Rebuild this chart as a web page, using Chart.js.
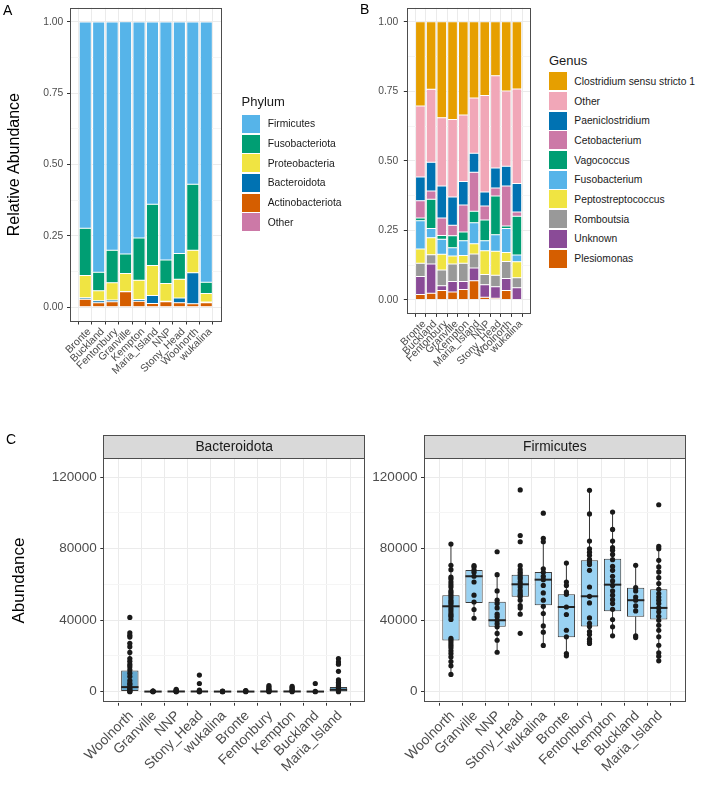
<!DOCTYPE html>
<html>
<head>
<meta charset="utf-8">
<script src="https://cdn.jsdelivr.net/npm/chart.js@4.4.1/dist/chart.umd.min.js"></script>
<style>
  body { margin: 0; background: #fff; font-family: "Liberation Sans", Arial, Helvetica, sans-serif; }
  #page { position: relative; width: 709px; height: 802px; overflow: hidden; }
  canvas { position: absolute; }
  .tag { position: absolute; font-size: 14px; line-height: 14px; color: #000; }
  .legend { position: absolute; color: #1a1a1a; }
  .legend .ttl { font-size: 13px; height: 17px; line-height: 17px; }
  .legend .row { display: flex; align-items: center; height: 19.7px; font-size: 10.3px; white-space: nowrap; }
  .legend .key { display: inline-block; width: 18px; height: 18px; }
</style>
</head>
<body>
<div id="page">
  <canvas id="chartA" width="235" height="400" style="left:0;top:0"></canvas>
  <canvas id="chartB" width="200" height="400" style="left:340px;top:0"></canvas>
  <canvas id="chartC1" width="370" height="372" style="left:0;top:430px"></canvas>
  <canvas id="chartC2" width="339" height="372" style="left:370px;top:430px"></canvas>
  <div class="tag" style="left:3px;top:3px">A</div>
  <div class="tag" style="left:360px;top:1.5px">B</div>
  <div class="tag" style="left:6px;top:431.5px">C</div>
</div>
<script>
// ---- panels A and B: sites in alphabetical order
const sites = ['Bronte', 'Buckland', 'Fentonbury', 'Granville', 'Kempton', 'Maria_Island', 'NNP', 'Stony_Head', 'Woolnorth', 'wukalina'];
const relTicks = [0, 0.125, 0.25, 0.375, 0.5, 0.625, 0.75, 0.875, 1];
const relMajor = [0, 0.25, 0.5, 0.75, 1];

// Phylum (legend order = top of the stack first)
const phylumNames = ['Firmicutes', 'Fusobacteriota', 'Proteobacteria', 'Bacteroidota', 'Actinobacteriota', 'Other'];
const phylumColors = ['#56B4E9', '#009E73', '#F0E442', '#0072B2', '#D55E00', '#CC79A7'];
const firmicutes       = [0.723, 0.877, 0.800, 0.814, 0.757, 0.639, 0.834, 0.812, 0.569, 0.912];
const fusobacteriota   = [0.166, 0.065, 0.114, 0.069, 0.148, 0.215, 0.083, 0.090, 0.231, 0.040];
const proteobacteria   = [0.078, 0.035, 0.061, 0.063, 0.068, 0.105, 0.062, 0.066, 0.079, 0.030];
const bacteroidota     = [0.005, 0.007, 0.006, 0.001, 0.006, 0.028, 0.002, 0.016, 0.109, 0.002];
const actinobacteriota = [0.026, 0.014, 0.017, 0.052, 0.019, 0.011, 0.017, 0.014, 0.010, 0.014];
const phylumOther      = [0.002, 0.002, 0.002, 0.002, 0.002, 0.002, 0.002, 0.002, 0.002, 0.002];

// Genus (legend order = top of the stack first)
const genusNames = ['Clostridium sensu stricto 1', 'Other', 'Paeniclostridium', 'Cetobacterium', 'Vagococcus',
  'Fusobacterium', 'Peptostreptococcus', 'Romboutsia', 'Unknown', 'Plesiomonas'];
const genusColors = ['#E69F00', '#F1A7B8', '#0072B2', '#CC79A7', '#009E73', '#56B4E9', '#F0E442', '#999999', '#8A4B97', '#D55E00'];
const clostridium        = [0.303, 0.243, 0.345, 0.351, 0.335, 0.274, 0.265, 0.194, 0.249, 0.242];
const genusOther         = [0.255, 0.262, 0.245, 0.279, 0.239, 0.199, 0.347, 0.332, 0.270, 0.339];
const paeniclostridium   = [0.085, 0.103, 0.115, 0.101, 0.085, 0.068, 0.050, 0.072, 0.071, 0.103];
const cetobacterium      = [0.062, 0.030, 0.063, 0.038, 0.097, 0.140, 0.051, 0.028, 0.144, 0.015];
const vagococcus         = [0.010, 0.105, 0.014, 0.043, 0.031, 0.041, 0.074, 0.140, 0.009, 0.139];
const fusobacterium      = [0.102, 0.033, 0.054, 0.030, 0.053, 0.076, 0.036, 0.059, 0.086, 0.025];
const peptostreptococcus = [0.051, 0.061, 0.056, 0.029, 0.028, 0.037, 0.085, 0.086, 0.033, 0.057];
const romboutsia         = [0.048, 0.034, 0.057, 0.063, 0.066, 0.050, 0.037, 0.041, 0.061, 0.036];
const unknownGenus       = [0.064, 0.105, 0.017, 0.037, 0.028, 0.046, 0.045, 0.042, 0.043, 0.042];
const plesiomonas        = [0.020, 0.024, 0.034, 0.029, 0.038, 0.069, 0.010, 0.006, 0.034, 0.002];

// ---- panel C: abundance per site
const boxSites = ['Woolnorth', 'Granville', 'NNP', 'Stony_Head', 'wukalina', 'Bronte', 'Fentonbury', 'Kempton', 'Buckland', 'Maria_Island'];
const abTicks = [0, 20000, 40000, 60000, 80000, 100000, 120000];
const abMajor = [0, 40000, 80000, 120000];

// Bacteroidota box stats
const bacLo  = [0, 0, 0, 0, 0, 0, 0, 0, 0, 0];
const bacQ1  = [400, 0, 0, 0, 0, 0, 0, 0, 0, 200];
const bacMed = [2600, 100, 150, 150, 100, 100, 150, 150, 100, 1100];
const bacQ3  = [11900, 250, 400, 400, 200, 300, 400, 400, 200, 2700];
const bacHi  = [27100, 400, 1300, 900, 300, 700, 900, 900, 300, 6600];
const bacPoints = [
  [41600, 33000, 31600, 30600, 27100, 25200, 22000, 18600, 17000, 15300, 14000, 12200, 10400, 8500, 6300, 4800, 4000, 2800, 2000, 1200, 600, 200, 0],
  [0, 100, 150, 200, 300, 400],
  [0, 100, 200, 500, 900, 1300],
  [9300, 4600, 900, 400, 100, 0],
  [0, 100, 200, 300],
  [0, 200, 500, 700],
  [3400, 2600, 1800, 1100, 700, 300, 0],
  [3000, 2300, 1600, 900, 400, 0],
  [4600, 200, 0],
  [18600, 16700, 15400, 11400, 6600, 5300, 4400, 3400, 2700, 1800, 1100, 500, 0]
];

// Firmicutes box stats
const firLo  = [9700, 41100, 22100, 43400, 25900, 20100, 27000, 31300, 30300, 17300];
const firQ1  = [28700, 49700, 36300, 53200, 48400, 30500, 36500, 45000, 42000, 40400];
const firMed = [47800, 64600, 40000, 60100, 62700, 47400, 53400, 59900, 51200, 46900];
const firQ3  = [54000, 68100, 50400, 65500, 67000, 54500, 73500, 74400, 58200, 57300];
const firHi  = [82600, 70500, 65500, 70500, 85800, 72000, 112700, 100500, 70700, 81300];
const firPoints = [
  [82600, 70700, 68300, 64200, 63100, 61400, 59900, 58600, 56400, 55300, 54000, 52700, 51200, 50200, 49300, 48000, 46500,
   45200, 43700, 42800, 41900, 40400, 29800, 28700, 27300, 25900, 24600, 22900, 21400, 19500, 16900, 14500, 9700],
  [70500, 69800, 68100, 66800, 64600, 61400, 54000, 50200, 46000, 41100],
  [78300, 65500, 56400, 51200, 49300, 46900, 43400, 41900, 40000, 38100, 36300, 32600, 28800, 22100],
  [112900, 87400, 83900, 70500, 68300, 66800, 65500, 64200, 63100, 61400, 60100, 58600, 56700, 55300, 54000, 53200,
   51200, 48200, 46900, 43400, 32700],
  [99900, 85800, 83900, 68800, 66800, 64600, 62700, 59500, 55300, 51200, 47800, 43700, 36800, 33300, 25900],
  [72000, 61400, 59500, 55800, 54500, 47400, 43200, 34400, 30700, 21400, 20100],
  [112700, 99500, 84300, 80000, 78100, 76300, 74000, 72600, 71200, 67900, 58600, 53400, 49700, 41300, 38300, 36500,
   33700, 32000, 29400, 27900, 27000],
  [100500, 90800, 84300, 80600, 79100, 76800, 73900, 70100, 67900, 64600, 62000, 59500, 56400, 54000, 51500, 49300,
   46100, 40400, 36300, 31300],
  [70700, 58200, 56400, 53000, 51200, 48000, 45200, 31300, 30300],
  [104600, 81300, 80000, 73500, 69800, 67000, 63800, 60500, 57300, 54900, 53000, 51200, 49300, 46900, 44700, 42200,
   40000, 37200, 34400, 30700, 26000, 21800, 19900, 17300]
];

const FONT = '"Liberation Sans", Arial, Helvetica, sans-serif';

// panel border (theme_bw) and facet strip
const frame = {
  id: 'frame',
  afterDraw(chart) {
    const a = chart.chartArea, ctx = chart.ctx;
    ctx.save();
    ctx.strokeStyle = '#4d4d4d';
    ctx.lineWidth = 1;
    ctx.strokeRect(Math.round(a.left) + 0.5, Math.round(a.top) + 0.5, Math.round(a.width) - 1, Math.round(a.height) - 1);
    ctx.restore();
  }
};
const strip = {
  id: 'strip',
  afterDraw(chart, args, opts) {
    if (!opts.text) return;
    const a = chart.chartArea, ctx = chart.ctx;
    const h = 23.3;
    ctx.save();
    ctx.fillStyle = '#d9d9d9';
    ctx.fillRect(a.left, a.top - h, a.width, h);
    ctx.strokeStyle = '#4d4d4d';
    ctx.lineWidth = 1;
    ctx.strokeRect(Math.round(a.left) + 0.5, Math.round(a.top - h) + 0.5, Math.round(a.width) - 1, Math.round(h));
    ctx.fillStyle = '#1a1a1a';
    ctx.font = '13.8px ' + FONT;
    ctx.textAlign = 'center';
    ctx.textBaseline = 'middle';
    ctx.fillText(opts.text, (a.left + a.right) / 2, a.top - h / 2 + 0.5);
    ctx.restore();
  }
};
// whiskers and median, drawn right after the box dataset (below the points)
const whiskers = {
  id: 'whiskers',
  afterDatasetDraw(chart, args) {
    const ds = chart.data.datasets[args.index];
    if (!ds.med) return;
    const ctx = chart.ctx, y = chart.scales.y;
    ctx.save();
    args.meta.data.forEach((bar, i) => {
      const x = bar.x, w = bar.width;
      ctx.strokeStyle = '#333';
      ctx.lineWidth = 1;
      ctx.beginPath();
      ctx.moveTo(x, y.getPixelForValue(ds.hi[i]));
      ctx.lineTo(x, y.getPixelForValue(ds.q3[i]));
      ctx.moveTo(x, y.getPixelForValue(ds.q1[i]));
      ctx.lineTo(x, y.getPixelForValue(ds.lo[i]));
      ctx.stroke();
      ctx.strokeStyle = '#222';
      ctx.lineWidth = 2;
      ctx.beginPath();
      const ym = y.getPixelForValue(ds.med[i]);
      ctx.moveTo(x - w / 2, ym);
      ctx.lineTo(x + w / 2, ym);
      ctx.stroke();
    });
    ctx.restore();
  }
};

function axes(o) {
  return {
    x: {
      type: 'linear', min: o.xMin, max: o.xMax, stacked: true,
      afterBuildTicks: s => { s.ticks = o.labels.map((_, i) => ({ value: i })); },
      afterFit: s => { s.height = o.xH; s.paddingLeft = 0; s.paddingRight = 0; },
      ticks: {
        autoSkip: false, minRotation: 45, maxRotation: 45, padding: o.xPad, labelOffset: o.xShift,
        callback: v => o.labels[v], color: '#4d4d4d', font: { family: FONT, size: o.xfs }
      },
      grid: { color: '#ebebeb', tickColor: '#333', tickLength: 3 },
      border: { display: false }
    },
    y: {
      min: o.yMin, max: o.yMax, stacked: o.stackY,
      afterBuildTicks: s => { s.ticks = o.ticks.map(v => ({ value: v })); },
      afterFit: s => { s.width = o.yW; s.paddingTop = 0; s.paddingBottom = 0; },
      ticks: {
        padding: o.yPad, color: '#4d4d4d', font: { family: FONT, size: o.fs },
        callback: v => o.major.includes(v) ? o.fmt(v) : ''
      },
      grid: {
        color: c => o.major.includes(c.tick.value) ? '#ebebeb' : '#f5f5f5',
        tickColor: c => o.major.includes(c.tick.value) ? '#333' : 'rgba(0,0,0,0)',
        tickLength: 3
      },
      border: { display: false },
      title: o.title ? { display: true, text: o.title, color: '#000', font: { family: FONT, size: o.titleSize }, padding: { top: o.titlePad, bottom: 0 } } : { display: false }
    }
  };
}

function stackChart(id, layers, names, colors, o) {
  // first dataset sits at the bottom of the stack, so reverse the legend order
  const datasets = layers.map((vals, k) => ({
    label: names[k],
    data: vals.map((v, i) => ({ x: i, y: v })),
    backgroundColor: colors[k],
    borderColor: '#ffffff',
    borderWidth: 0.5,
    borderSkipped: false,
    barPercentage: 0.9,
    categoryPercentage: 1,
    stack: 's'
  })).reverse();
  new Chart(document.getElementById(id), {
    type: 'bar',
    data: { datasets },
    options: {
      responsive: false, animation: false,
      layout: { padding: o.pad },
      plugins: { legend: { display: false }, tooltip: { enabled: false } },
      scales: axes(Object.assign({ labels: sites, ticks: relTicks, major: relMajor, yMin: -0.05, yMax: 1.05, stackY: true, fmt: v => v.toFixed(2) }, o))
    },
    plugins: [frame]
  });
}

function boxChart(id, q1, med, q3, lo, hi, pts, fill, o) {
  const points = [];
  pts.forEach((list, i) => list.forEach(v => points.push({ x: i, y: v })));
  new Chart(document.getElementById(id), {
    type: 'bar',
    data: {
      datasets: [
        {
          type: 'bar', order: 2,
          data: q1.map((v, i) => ({ x: i, y: [v, q3[i]] })),
          q1, q3, med, lo, hi,
          backgroundColor: fill, borderColor: '#3a3a3a', borderWidth: 1, borderSkipped: false,
          barPercentage: 0.75, categoryPercentage: 1
        },
        {
          type: 'scatter', order: 1,
          data: points,
          pointRadius: 2.6, pointBackgroundColor: '#1a1a1a', pointBorderWidth: 0
        }
      ]
    },
    options: {
      responsive: false, animation: false,
      layout: { padding: o.pad },
      plugins: { legend: { display: false }, tooltip: { enabled: false }, strip: { text: o.strip } },
      scales: axes(Object.assign({ labels: boxSites, ticks: abTicks, major: abMajor, yMin: -6130, yMax: 130590, stackY: false, fmt: v => String(v) }, o))
    },
    plugins: [frame, whiskers, strip]
  });
}

stackChart('chartA',
  [firmicutes, fusobacteriota, proteobacteria, bacteroidota, actinobacteriota, phylumOther],
  phylumNames, phylumColors,
  { pad: { top: 7.7, right: 13.5, left: 0, bottom: 0 }, xMin: -0.57, xMax: 9.57, xH: 78.5, yW: 70,
    fs: 10.3, xfs: 10.5, xPad: 1, xShift: 4, yPad: 3.7, title: 'Relative Abundance', titleSize: 16, titlePad: 5.4 });

stackChart('chartB',
  [clostridium, genusOther, paeniclostridium, cetobacterium, vagococcus, fusobacterium, peptostreptococcus, romboutsia, unknownGenus, plesiomonas],
  genusNames, genusColors,
  { pad: { top: 7.8, right: 9.5, left: 0, bottom: 0 }, xMin: -0.69, xMax: 9.69, xH: 86.1, yW: 66.8,
    fs: 10.3, xfs: 10.5, xPad: 1, xShift: 4, yPad: 5.5 });

boxChart('chartC1', bacQ1, bacMed, bacQ3, bacLo, bacHi, bacPoints, '#66AAD1',
  { pad: { top: 28.3, right: 5, left: 0, bottom: 0 }, xMin: -0.58, xMax: 9.58, xH: 99.3, yW: 103.3,
    fs: 13.5, xfs: 13.8, xPad: 2, xShift: 1.5, yPad: 3.6, title: 'Abundance', titleSize: 17, titlePad: 8.8, strip: 'Bacteroidota' });

boxChart('chartC2', firQ1, firMed, firQ3, firLo, firHi, firPoints, '#9AD2F2',
  { pad: { top: 28.3, right: 23.3, left: 0, bottom: 0 }, xMin: -0.6, xMax: 9.6, xH: 99.3, yW: 54,
    fs: 13.5, xfs: 13.8, xPad: 2, xShift: 1.5, yPad: 3.6, strip: 'Firmicutes' });

// legends
function legend(left, top, gap, keyGap, title, names, colors) {
  const el = document.createElement('div');
  el.className = 'legend';
  el.style.left = left + 'px';
  el.style.top = top + 'px';
  let html = '<div class="ttl" style="margin-bottom:' + gap + 'px">' + title + '</div>';
  names.forEach((n, k) => {
    html += '<div class="row"><span class="key" style="background:' + colors[k] + ';margin-right:' + keyGap + 'px"></span>' + n + '</div>';
  });
  el.innerHTML = html;
  document.getElementById('page').appendChild(el);
}
legend(241.5, 93.2, 3.8, 8.2, 'Phylum', phylumNames, phylumColors);
legend(549, 51.5, 3, 7.3, 'Genus', genusNames, genusColors);
</script>
</body>
</html>
